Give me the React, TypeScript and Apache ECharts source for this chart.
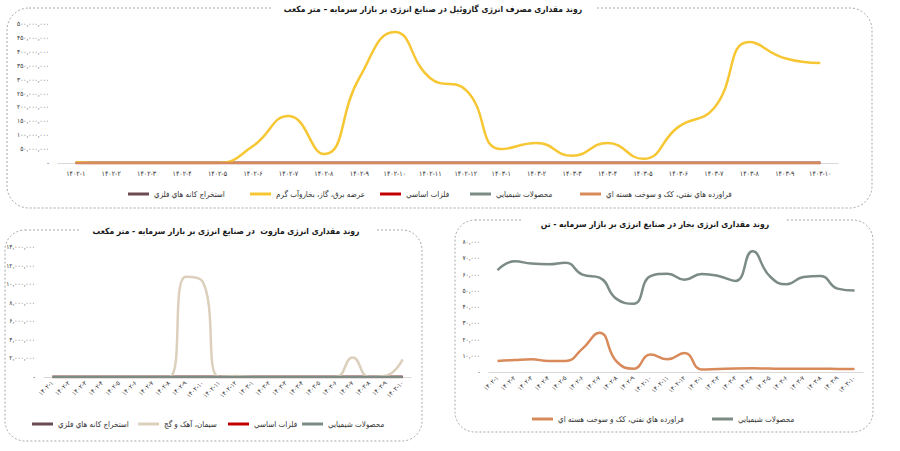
import React, { useEffect, useRef } from 'react';
import * as echarts from 'echarts';

// ---------- data ----------
const categories = [
  '۱۴۰۲-۱', '۱۴۰۲-۲', '۱۴۰۲-۳', '۱۴۰۲-۴', '۱۴۰۲-۵', '۱۴۰۲-۶', '۱۴۰۲-۷', '۱۴۰۲-۸', '۱۴۰۲-۹', '۱۴۰۲-۱۰', '۱۴۰۲-۱۱', '۱۴۰۲-۱۲',
  '۱۴۰۳-۱', '۱۴۰۳-۲', '۱۴۰۳-۳', '۱۴۰۳-۴', '۱۴۰۳-۵', '۱۴۰۳-۶', '۱۴۰۳-۷', '۱۴۰۳-۸', '۱۴۰۳-۹', '۱۴۰۳-۱۰',
];

const N_MINING = 'استخراج کانه هاي فلزي';
const N_POWER = 'عرضه برق، گاز، بخاروآب گرم';
const N_METAL = 'فلزات اساسي';
const N_CHEM = 'محصولات شيميايي';
const N_PETRO = 'فراورده هاي نفتي، کک و سوخت هسته اي';
const N_CEMENT = 'سيمان، آهک و گچ';

const TITLE_GASOIL = 'روند مقداری مصرف انرژی گازوئیل در صنایع انرژی بر بازار سرمایه – متر مکعب';
const TITLE_MAZUT = 'روند مقداری انرژی مازوت  در صنایع انرژی بر بازار سرمایه - متر مکعب';
const TITLE_STEAM = 'روند مقداری انرژی بخار در صنایع انرژی بر بازار سرمایه - تن';

// gasoil (cubic metres)
const gasoilMining = [0, 0, 0, 0, 0, 0, 0, 0, 0, 0, 0, 0, 0, 0, 0, 0, 0, 0, 0, 0, 0, 0];
const gasoilPower = [3000000, 0, 0, 0, 0, 61000000, 169000000, 32000000, 306000000, 471000000, 305000000, 263000000,
  50000000, 72000000, 26000000, 72000000, 15000000, 130000000, 197000000, 435000000, 377000000, 360000000];
const gasoilMetal = [0, 0, 0, 0, 0, 0, 0, 0, 0, 0, 0, 0, 0, 0, 0, 0, 0, 0, 0, 0, 0, 0];
const gasoilChem = [0, 0, 0, 0, 0, 0, 0, 0, 0, 0, 0, 0, 0, 0, 0, 0, 0, 0, 0, 0, 0, 0];
const gasoilPetro = [0, 0, 0, 0, 0, 0, 0, 0, 0, 0, 0, 0, 0, 0, 0, 0, 0, 0, 0, 0, 0, 0];

// mazut (cubic metres)
const mazutMining = [0, 0, 0, 0, 0, 0, 0, 0, 0, 0, 0, 0, 0, 0, 0, 0, 0, 0, 0, 0, 0, 0];
const mazutCement = [0, 0, 0, 0, 0, 0, 0, 0, 10800000, 10300000, 0, 100000, 0, 0, 0, 0, 0, 0, 2100000, 0, 150000, 1900000];
const mazutMetal = [0, 0, 0, 0, 0, 0, 0, 0, 0, 0, 0, 0, 0, 0, 0, 0, 0, 0, 0, 0, 0, 0];
const mazutChem = [0, 0, 0, 0, 0, 0, 0, 0, 0, 0, 0, 0, 0, 0, 0, 0, 0, 0, 0, 0, 0, 0];

// steam (tonnes)
const steamPetro = [6800, 7400, 7800, 6800, 6800, 14400, 24200, 6500, 2000, 10700, 7800, 11700,
  1600, 1900, 2200, 2300, 2100, 2000, 2000, 2000, 1900, 1800];
const steamChem = [62600, 68100, 66700, 66300, 67300, 59900, 58100, 45000, 42000, 59000, 60500, 56800,
  60300, 59100, 56000, 74300, 59100, 54000, 58500, 59100, 51300, 50100];

// y axis ticks
const gasoilAxis = { max: 500000000, interval: 50000000 };
const mazutAxis = { max: 14000000, interval: 2000000 };
const steamAxis = { max: 80000, interval: 10000 };

// ---------- style ----------
const FONT = "'DejaVu Sans Condensed', 'DejaVu Sans', sans-serif";
const COLORS: Record<string, string> = {
  [N_MINING]: '#6B4A52',
  [N_POWER]: '#F7C633',
  [N_METAL]: '#C00000',
  [N_CHEM]: '#7C8C85',
  [N_PETRO]: '#D98A5B',
  [N_CEMENT]: '#DCD0BD',
};
const FA = '۰۱۲۳۴۵۶۷۸۹';
const toFa = (v: number) =>
  v === 0 ? '-' : Math.round(v).toLocaleString('en-US').replace(/\d/g, (d) => FA[Number(d)]);

export default function App() {
  const ref = useRef<HTMLDivElement>(null);

  useEffect(() => {
    if (!ref.current) return;
    const chart = echarts.init(ref.current, undefined, { renderer: 'svg' });

    const grids = [
      { left: 58, right: 62, top: 24, bottom: 288 },
      { left: 44, right: 489, top: 247, bottom: 74 },
      { left: 489, right: 37, top: 242, bottom: 79 },
    ];
    const axisInfo = [gasoilAxis, mazutAxis, steamAxis];

    const xAxis = grids.map((_, i) => ({
      type: 'category',
      gridIndex: i,
      data: categories,
      boundaryGap: true,
      axisLine: { show: true, lineStyle: { color: '#D9D9D9', width: 1 } },
      axisTick: { show: false },
      axisLabel: {
        fontSize: i === 0 ? 7 : 6.5,
        color: '#333333',
        fontFamily: FONT,
        interval: 0,
        rotate: i === 0 ? 0 : 45,
        margin: i === 0 ? 7 : 5,
      },
    }));
    const yAxis = grids.map((_, i) => ({
      type: 'value',
      gridIndex: i,
      min: 0,
      max: axisInfo[i].max,
      interval: axisInfo[i].interval,
      splitLine: { show: false },
      axisLine: { show: false },
      axisTick: { show: false },
      axisLabel: { fontSize: 6.5, color: '#333333', fontFamily: FONT, formatter: toFa, margin: 9 },
    }));

    const mk = (name: string, data: number[], gi: number) => ({
      type: 'line',
      name,
      data,
      xAxisIndex: gi,
      yAxisIndex: gi,
      smooth: 0.5,
      symbol: 'none',
      lineStyle: { color: COLORS[name], width: 2.5 },
      itemStyle: { color: COLORS[name] },
    });

    const series = [
      mk(N_MINING, gasoilMining, 0),
      mk(N_METAL, gasoilMetal, 0),
      mk(N_CHEM, gasoilChem, 0),
      mk(N_POWER, gasoilPower, 0),
      mk(N_PETRO, gasoilPetro, 0),
      mk(N_MINING, mazutMining, 1),
      mk(N_METAL, mazutMetal, 1),
      mk(N_CEMENT, mazutCement, 1),
      mk(N_CHEM, mazutChem, 1),
      mk(N_PETRO, steamPetro, 2),
      mk(N_CHEM, steamChem, 2),
    ];

    const legendItems: [string, number, number][] = [
      [N_MINING, 128, 195],
      [N_POWER, 250, 195],
      [N_METAL, 380, 195],
      [N_CHEM, 470, 195],
      [N_PETRO, 580, 195],
      [N_MINING, 32, 425],
      [N_CEMENT, 138, 425],
      [N_METAL, 228, 425],
      [N_CHEM, 302, 425],
      [N_PETRO, 532, 420],
      [N_CHEM, 712, 420],
    ];
    const legend = legendItems.map(([name, left, cy]) => ({
      left,
      top: cy - 5,
      padding: 0,
      itemWidth: 21,
      itemHeight: 3,
      itemGap: 0,
      icon: 'rect',
      selectedMode: false,
      data: [{ name, itemStyle: { color: COLORS[name] } }],
      textStyle: { fontSize: 8, color: '#333333', fontFamily: FONT, padding: [0, 0, 0, 0] },
    }));

    const border = (x: number, y: number, w: number, h: number, r: number) => ({
      type: 'rect',
      shape: { x, y, width: w, height: h, r },
      style: { fill: 'none', stroke: '#A6A6A6', lineWidth: 1, lineDash: [2, 2] },
      silent: true,
    });
    const gap = (x1: number, x2: number, y: number) => ({
      type: 'rect',
      shape: { x: x1, y: y - 6, width: x2 - x1, height: 12 },
      style: { fill: '#ffffff' },
      silent: true,
    });
    const title = (text: string, cx: number, cy: number) => ({
      type: 'text',
      x: cx,
      y: cy,
      style: {
        text,
        fill: '#1a1a1a',
        fontSize: 8.5,
        fontWeight: 'bold',
        fontFamily: FONT,
        align: 'center',
        verticalAlign: 'middle',
        textAlign: 'center',
        textVerticalAlign: 'middle',
      },
      silent: true,
    });

    chart.setOption({
      animation: false,
      backgroundColor: '#ffffff',
      grid: grids,
      xAxis,
      yAxis,
      series,
      legend,
      graphic: {
        elements: [
          border(7, 8, 865, 200, 22),
          border(5, 230, 417, 211, 20),
          border(455, 220, 418, 212, 20),
          gap(272, 596, 8),
          gap(80, 375, 230),
          gap(523, 787, 220),
          title(TITLE_GASOIL, 433, 9),
          title(TITLE_MAZUT, 226, 231),
          title(TITLE_STEAM, 655, 224),
        ],
      },
    });

    return () => chart.dispose();
  }, []);

  return (
    <div
      ref={ref}
      style={{ position: 'absolute', left: 0, top: 0, width: 900, height: 451 }}
    />
  );
}
